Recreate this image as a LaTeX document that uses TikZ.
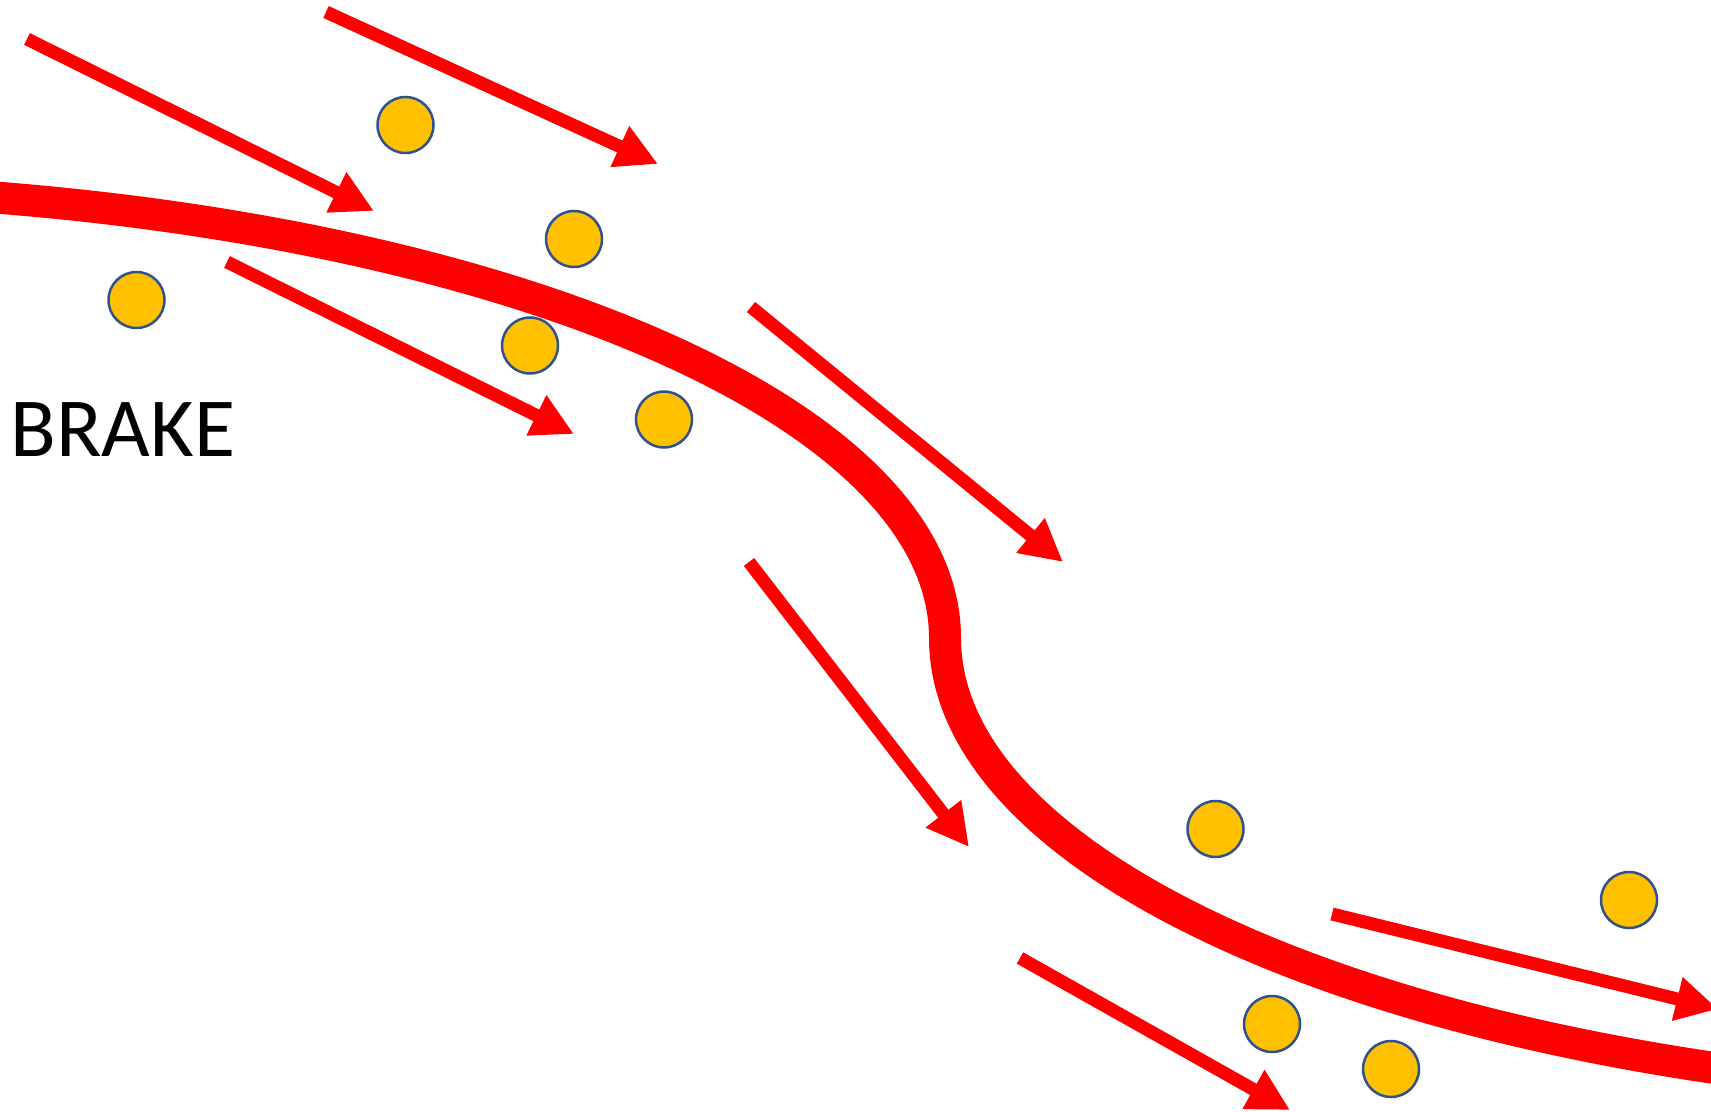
\documentclass[tikz,border=0pt]{standalone}
\usepackage{fontspec}
\setmainfont{Carlito}
\usetikzlibrary{arrows.meta}
\definecolor{ballfill}{HTML}{FFC000}
\definecolor{balledge}{HTML}{2F528F}
\definecolor{flowred}{HTML}{FF0000}
\tikzset{
  flow/.style={draw=flowred, line width=6.5pt, line cap=butt, -{Triangle[length=21pt,width=21pt]}},
  road/.style={draw=flowred, line width=16pt},
  ball/.style={circle, minimum size=28pt, inner sep=0pt, fill=ballfill, draw=balledge, line width=1.25pt},
  lbl/.style={font=\fontsize{42}{50}\selectfont, text=black, inner sep=0pt, anchor=base west}
}
\begin{document}
\begin{tikzpicture}[x=0.5pt,y=-0.5pt]
\useasboundingbox (0,0) rectangle (1711,1112);
\clip (0,0) rectangle (1711,1112);
\fill[white] (0,0) rectangle (1711,1112);
% main curved stream
\draw[road] (-250,188) arc[start angle=-90, end angle=0, x radius=1195, y radius=450]
                       arc[start angle=180, end angle=90, x radius=1195, y radius=460];
% arrow end points
\coordinate (a1s) at (27,39);    \coordinate (a1e) at (374,211);
\coordinate (a2s) at (326,12);   \coordinate (a2e) at (658,164);
\coordinate (a3s) at (227,262);  \coordinate (a3e) at (574,434);
\coordinate (a4s) at (751,307);  \coordinate (a4e) at (1063,562);
\coordinate (a5s) at (749,562);  \coordinate (a5e) at (969,847);
\coordinate (a6s) at (1020,958); \coordinate (a6e) at (1290,1110);
\coordinate (a7s) at (1332,914); \coordinate (a7e) at (1718,1009);
\draw[flow] (a1s) -- (a1e);
\draw[flow] (a2s) -- (a2e);
\draw[flow] (a3s) -- (a3e);
\draw[flow] (a4s) -- (a4e);
\draw[flow] (a5s) -- (a5e);
\draw[flow] (a6s) -- (a6e);
\draw[flow] (a7s) -- (a7e);
% balls
\node[ball] (b1) at (405.5,125) {};
\node[ball] (b2) at (574,239) {};
\node[ball] (b3) at (136.5,300) {};
\node[ball] (b4) at (530,345.5) {};
\node[ball] (b5) at (664,419.5) {};
\node[ball] (b6) at (1215.5,829) {};
\node[ball] (b7) at (1629,900) {};
\node[ball] (b8) at (1272,1024) {};
\node[ball] (b9) at (1391,1069) {};
% label
\node[lbl] (brake) at (10,456) {BRAKE};
\end{tikzpicture}
\end{document}
